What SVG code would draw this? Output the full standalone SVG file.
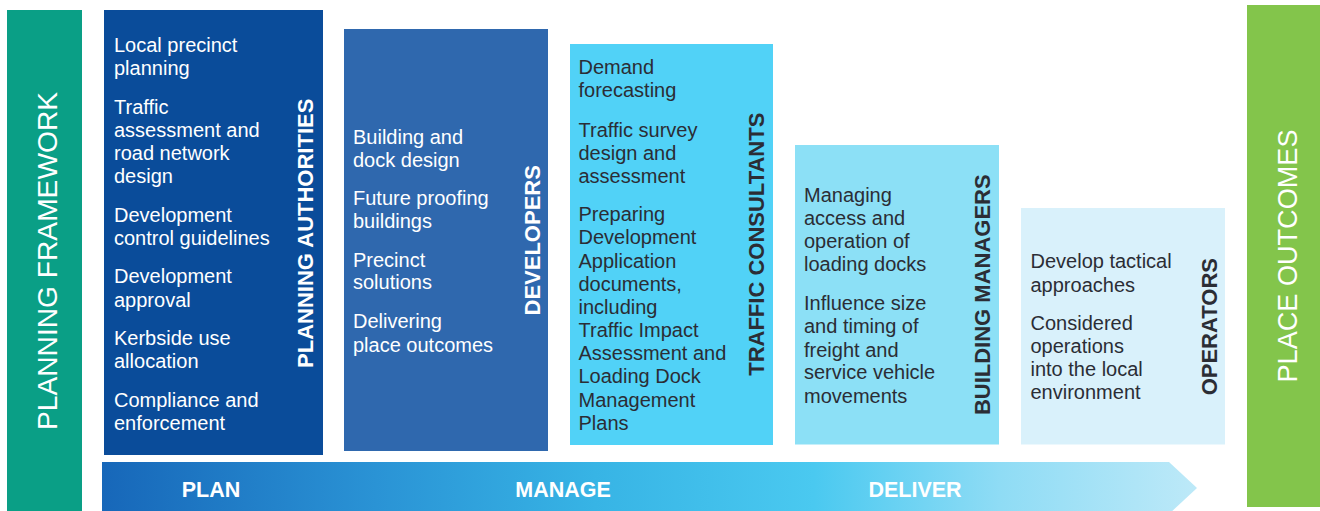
<svg xmlns="http://www.w3.org/2000/svg" width="1320" height="511" viewBox="0 0 1320 511">
<defs>
<linearGradient id="arrowGrad" x1="102" y1="0" x2="1197" y2="0" gradientUnits="userSpaceOnUse">
<stop offset="0" stop-color="#1767b9"/>
<stop offset="0.25" stop-color="#2a93d5"/>
<stop offset="0.45" stop-color="#37b4e5"/>
<stop offset="0.65" stop-color="#4ac9f0"/>
<stop offset="0.82" stop-color="#8fdcf5"/>
<stop offset="1" stop-color="#bde9f8"/>
</linearGradient>
</defs>
<style>
text{font-family:"Liberation Sans",Arial,sans-serif}
.body{font-size:20px}
.w{fill:#ffffff}
.d{fill:#2b2d35}
.head{font-size:22px;font-weight:bold;text-anchor:middle}
.big{font-size:28px;text-anchor:middle;fill:#ffffff}
.phase{font-size:21.5px;font-weight:bold;text-anchor:middle;fill:#ffffff}
</style>
<rect width="1320" height="511" fill="#ffffff"/>

<g id="planning-framework">
<rect x="7" y="10" width="75" height="501" fill="#0a9f86"/>
<text class="big" transform="translate(57,261) rotate(-90)" textLength="338" lengthAdjust="spacingAndGlyphs">PLANNING FRAMEWORK</text>
</g>

<g id="phase-arrow">
<path d="M102 462 H1169 L1197 488 L1169 514 H102 Z" fill="url(#arrowGrad)"/>
<text class="phase" x="211" y="497">PLAN</text>
<text class="phase" x="563" y="497">MANAGE</text>
<text class="phase" x="915" y="497">DELIVER</text>
</g>

<g id="planning-authorities">
<rect x="104" y="10" width="219" height="445" fill="#0a4c9a"/>
<g class="body w">
<text x="114" y="51.5">Local precinct</text>
<text x="114" y="74.5">planning</text>
<text x="114" y="113.5">Traffic</text>
<text x="114" y="136.7">assessment and</text>
<text x="114" y="160">road network</text>
<text x="114" y="183">design</text>
<text x="114" y="221.7">Development</text>
<text x="114" y="245">control guidelines</text>
<text x="114" y="283.3">Development</text>
<text x="114" y="306.7">approval</text>
<text x="114" y="345">Kerbside use</text>
<text x="114" y="368.3">allocation</text>
<text x="114" y="406.7">Compliance and</text>
<text x="114" y="430">enforcement</text>
</g>
<text class="head w" transform="translate(313,233.3) rotate(-90)">PLANNING AUTHORITIES</text>
</g>

<g id="developers">
<rect x="344" y="29" width="204" height="422" fill="#2f68ae"/>
<g class="body w">
<text x="353" y="144">Building and</text>
<text x="353" y="166.7">dock design</text>
<text x="353" y="205">Future proofing</text>
<text x="353" y="227.7">buildings</text>
<text x="353" y="266.7">Precinct</text>
<text x="353" y="289.3">solutions</text>
<text x="353" y="328.3">Delivering</text>
<text x="353" y="351.7">place outcomes</text>
</g>
<text class="head w" transform="translate(540,240.3) rotate(-90)">DEVELOPERS</text>
</g>

<g id="traffic-consultants">
<rect x="570" y="44" width="203" height="401" fill="#51d2f7"/>
<g class="body d">
<text x="578.5" y="74">Demand</text>
<text x="578.5" y="97.3">forecasting</text>
<text x="578.5" y="136.7">Traffic survey</text>
<text x="578.5" y="159.5">design and</text>
<text x="578.5" y="182.7">assessment</text>
<text x="578.5" y="220.7">Preparing</text>
<text x="578.5" y="244">Development</text>
<text x="578.5" y="267.5">Application</text>
<text x="578.5" y="290.7">documents,</text>
<text x="578.5" y="314">including</text>
<text x="578.5" y="336.7">Traffic Impact</text>
<text x="578.5" y="360">Assessment and</text>
<text x="578.5" y="383.3">Loading Dock</text>
<text x="578.5" y="406.7">Management</text>
<text x="578.5" y="429.5">Plans</text>
</g>
<text class="head d" transform="translate(764,244.2) rotate(-90)">TRAFFIC CONSULTANTS</text>
</g>

<g id="building-managers">
<rect x="795" y="145" width="204" height="299.5" fill="#8ce0f6"/>
<g class="body d">
<text x="804" y="202.3">Managing</text>
<text x="804" y="225">access and</text>
<text x="804" y="248.3">operation of</text>
<text x="804" y="271">loading docks</text>
<text x="804" y="310">Influence size</text>
<text x="804" y="333.3">and timing of</text>
<text x="804" y="356.7">freight and</text>
<text x="804" y="379.3">service vehicle</text>
<text x="804" y="402.7">movements</text>
</g>
<text class="head d" transform="translate(990,294.7) rotate(-90)">BUILDING MANAGERS</text>
</g>

<g id="operators">
<rect x="1021" y="208" width="204" height="236.5" fill="#d9f1fb"/>
<g class="body d">
<text x="1030.5" y="268.3">Develop tactical</text>
<text x="1030.5" y="291.7">approaches</text>
<text x="1030.5" y="330">Considered</text>
<text x="1030.5" y="352.7">operations</text>
<text x="1030.5" y="376">into the local</text>
<text x="1030.5" y="399.3">environment</text>
</g>
<text class="head d" transform="translate(1216.5,326.7) rotate(-90)">OPERATORS</text>
</g>

<g id="place-outcomes">
<rect x="1247" y="5" width="73" height="502" fill="#83c54b"/>
<text class="big" transform="translate(1296.5,256) rotate(-90)" textLength="253" lengthAdjust="spacingAndGlyphs">PLACE OUTCOMES</text>
</g>
</svg>
